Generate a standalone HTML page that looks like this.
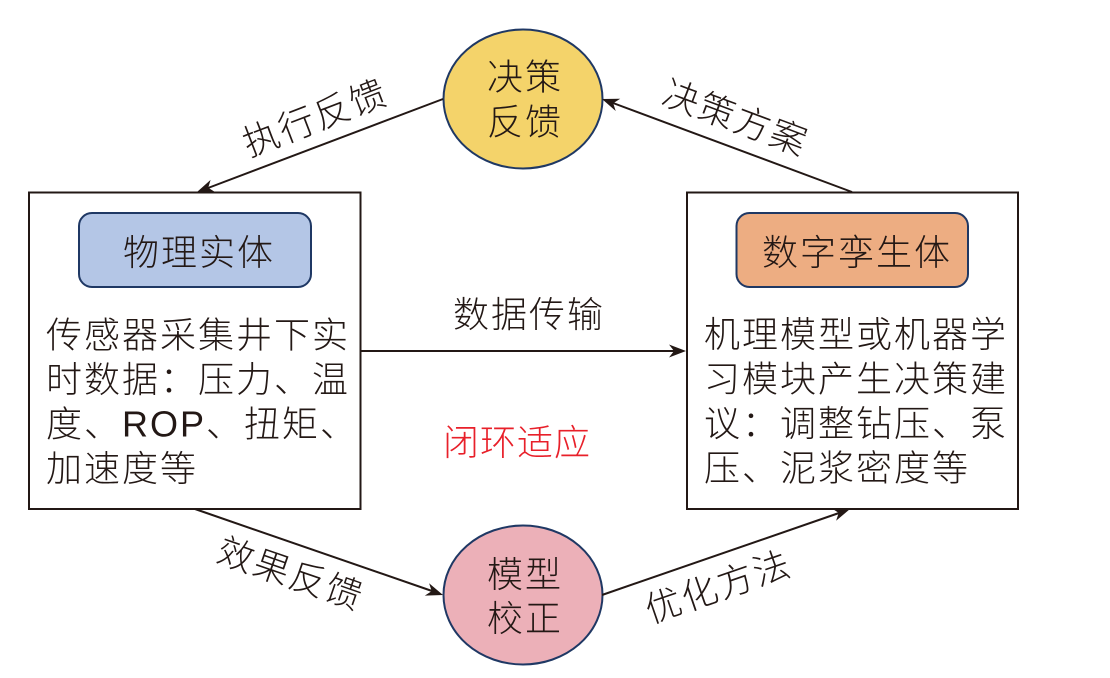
<!DOCTYPE html>
<html>
<head>
<meta charset="utf-8">
<style>
  html,body{margin:0;padding:0;background:#fff;}
  svg{display:block;}
  text{font-family:"Liberation Sans","Noto Sans CJK SC",sans-serif;fill:#231815;font-weight:300;}
</style>
</head>
<body>
<svg width="1110" height="678" viewBox="0 0 1110 678" xmlns="http://www.w3.org/2000/svg">
  <rect x="0" y="0" width="1110" height="678" fill="#fff"/>

  <!-- Left box -->
  <rect x="29" y="192.5" width="331.5" height="316.5" fill="#fff" stroke="#231815" stroke-width="2"/>
  <rect x="79" y="213" width="232" height="74" rx="13" ry="13" fill="#b4c6e6" stroke="#1f3864" stroke-width="2"/>
  <text x="123" y="265" font-size="36" letter-spacing="2">物理实体</text>
  <g font-size="36" letter-spacing="2">
    <text x="46" y="347.5">传感器采集井下实</text>
    <text x="46" y="392">时数据：压力、温</text>
    <text x="46" y="436.5">度、ROP、扭矩、</text>
    <text x="46" y="481">加速度等</text>
  </g>

  <!-- Right box -->
  <rect x="687" y="192.5" width="331" height="316.5" fill="#fff" stroke="#231815" stroke-width="2"/>
  <rect x="736.5" y="213" width="231.5" height="74" rx="13" ry="13" fill="#edad82" stroke="#1f3864" stroke-width="2"/>
  <text x="762" y="265" font-size="36" letter-spacing="2">数字孪生体</text>
  <g font-size="36" letter-spacing="2">
    <text x="704" y="347">机理模型或机器学</text>
    <text x="704" y="391.5">习模块产生决策建</text>
    <text x="704" y="436">议：调整钻压、泵</text>
    <text x="704" y="480.5">压、泥浆密度等</text>
  </g>

  <!-- Top ellipse -->
  <ellipse cx="523" cy="99" rx="79.5" ry="69.5" fill="#f4d36a" stroke="#1f3864" stroke-width="2"/>
  <text x="487" y="89.5" font-size="36" letter-spacing="2">决策</text>
  <text x="487" y="134.5" font-size="36" letter-spacing="2">反馈</text>

  <!-- Bottom ellipse -->
  <ellipse cx="523" cy="595" rx="79.5" ry="69.5" fill="#ecb0b8" stroke="#1f3864" stroke-width="2"/>
  <text x="487" y="587" font-size="36" letter-spacing="2">模型</text>
  <text x="487" y="631" font-size="36" letter-spacing="2">校正</text>

  <!-- Connectors -->
  <g stroke="#231815" stroke-width="2" fill="none">
    <line x1="443" y1="99" x2="208" y2="188"/>
    <line x1="852" y1="192" x2="613" y2="103"/>
    <line x1="361" y1="351" x2="674" y2="351"/>
    <line x1="195" y1="509" x2="432" y2="591"/>
    <line x1="602" y1="595" x2="839" y2="513"/>
  </g>
  <g fill="#231815" stroke="none">
    <polygon points="197,192 215.2,192.1 208.2,187.8 210.6,179.9"/>
    <polygon points="602,99 620.2,98.8 613.2,103.2 615.7,111.0"/>
    <polygon points="686,351 669,344.5 674,351 669,357.5"/>
    <polygon points="443,595 424.8,595.6 431.7,591.1 429.1,583.3"/>
    <polygon points="850,509 836.1,520.7 838.7,512.9 831.8,508.4"/>
  </g>

  <!-- Connector labels -->
  <text x="453" y="327" font-size="36" letter-spacing="2">数据传输</text>
  <text x="443" y="455" font-size="36" letter-spacing="1" style="fill:#e8202a">闭环适应</text>

  <text x="315" y="130.5" font-size="36" letter-spacing="2" text-anchor="middle" transform="rotate(-21 315 117)">执行反馈</text>
  <text x="736" y="130.5" font-size="36" letter-spacing="2" text-anchor="middle" transform="rotate(20.5 736 117)">决策方案</text>
  <text x="291" y="586.5" font-size="36" letter-spacing="2" text-anchor="middle" transform="rotate(19 291 573)">效果反馈</text>
  <text x="718" y="599.5" font-size="36" letter-spacing="2" text-anchor="middle" transform="rotate(-19 718 586)">优化方法</text>
</svg>
</body>
</html>
